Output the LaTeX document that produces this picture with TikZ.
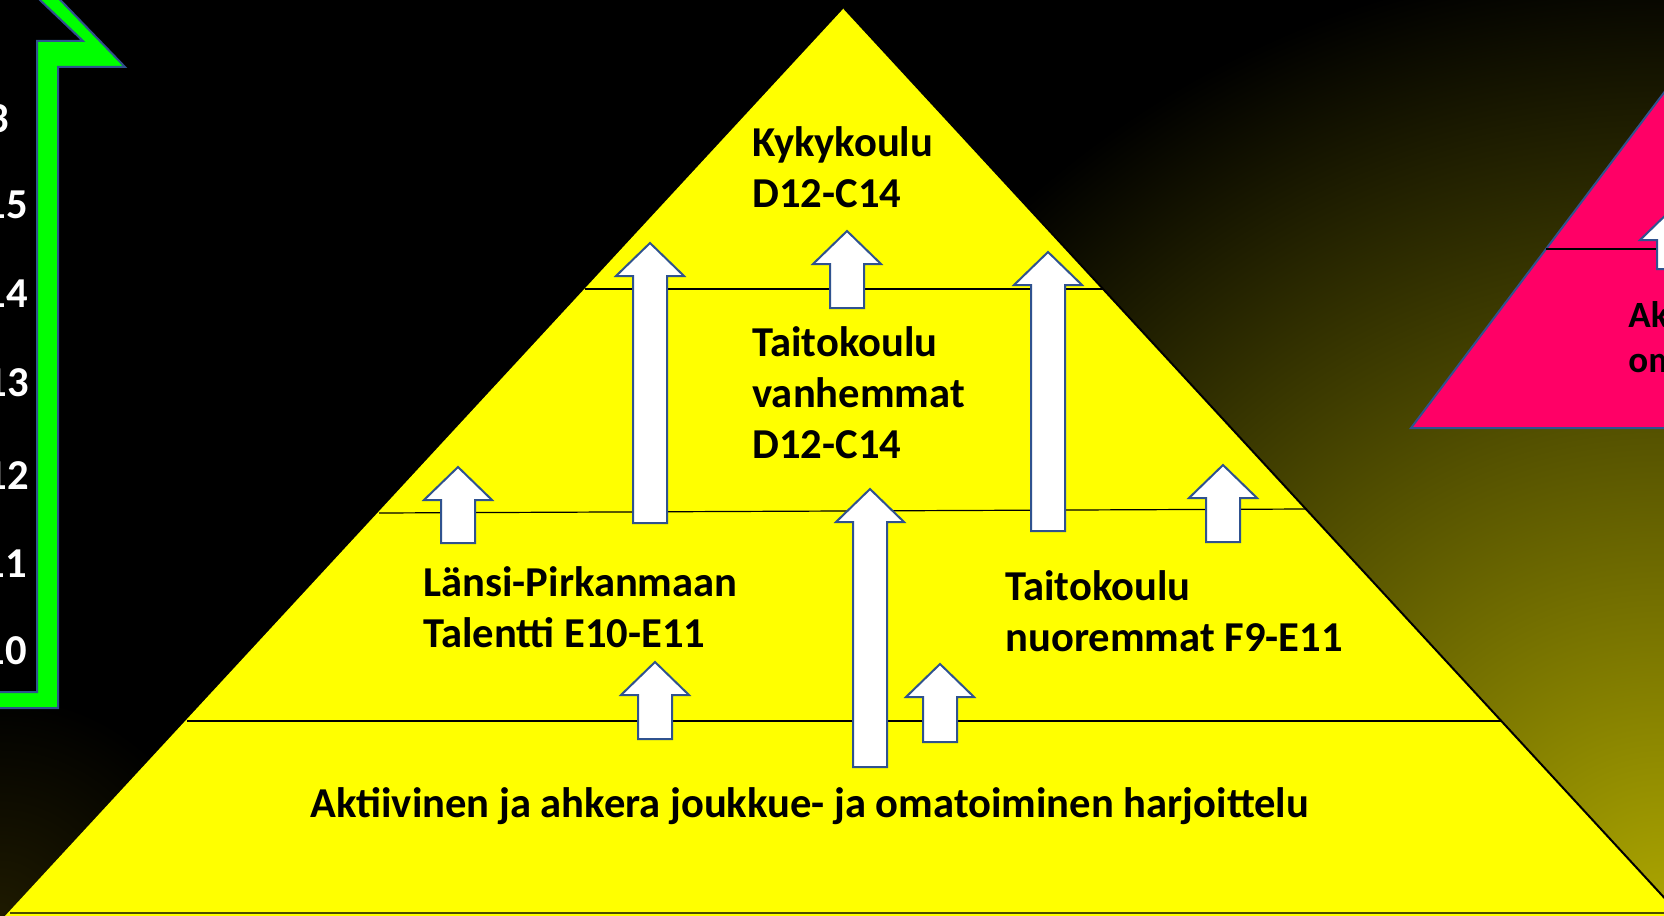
\documentclass[tikz,border=0pt]{standalone}
\usepackage{fontspec}
\setmainfont{Carlito}
\definecolor{pyel}{RGB}{255,255,0}
\definecolor{pgreen}{RGB}{0,255,0}
\definecolor{ppink}{RGB}{255,0,102}
\definecolor{pblue}{RGB}{47,82,143}
\definecolor{glowc}{RGB}{172,166,0}
\definecolor{glowd}{RGB}{30,26,0}
\pgfdeclareradialshading{glow}{\pgfpoint{0bp}{0bp}}{color(0bp)=(glowc); color(25bp)=(black); color(50bp)=(black)}
\pgfdeclareradialshading{glowtwo}{\pgfpoint{0bp}{0bp}}{color(0bp)=(glowd); color(25bp)=(black); color(50bp)=(black)}
\tikzset{
  lbl/.style={anchor=base west, inner sep=0pt, font=\fontsize{21.3}{25.5}\selectfont\bfseries, text=black},
  pinklbl/.style={anchor=base west, inner sep=0pt, font=\fontsize{18.5}{22.5}\selectfont\bfseries, text=black},
  numlbl/.style={anchor=base east, inner sep=0pt, font=\fontsize{21.3}{25.5}\selectfont\bfseries, text=white},
  blockarrow/.style={draw=pblue, fill=white, line width=1pt, line join=miter},
  layerline/.style={draw=black, line width=0.6pt}
}
\newcommand{\blkuparrow}[3]{% cx, tip, bottom
  \draw[blockarrow] ({#1-17},#3) -- ({#1-17},{#2+33}) -- ({#1-34},{#2+33}) -- (#1,#2)
    -- ({#1+34},{#2+33}) -- ({#1+17},{#2+33}) -- ({#1+17},#3) -- cycle;}
\begin{document}
\begin{tikzpicture}[x=0.5pt,y=-0.5pt]
\useasboundingbox (0,0) rectangle (1664,915);
\clip (0,0) rectangle (1664,915);
% background
\fill[black] (-10,-10) rectangle (1680,930);
\shade[shading=glowtwo] (0,915) circle (110pt);
\shade[shading=glow] (1664,915) circle (480pt);
% green bent arrow
\draw[fill=pgreen, draw=pblue, line width=1pt] (19,-20) -- (83,41) -- (37,41) -- (37,692) -- (-10,692)
  -- (-10,708) -- (58,708) -- (58,67) -- (125,67) -- (41,-20) -- cycle;
% numbers
\node[numlbl] (n8) at (9,133) {3};
\node[numlbl] (n15) at (28,218) {15};
\node[numlbl] (n14) at (28,307) {14};
\node[numlbl] (n13) at (29,396) {13};
\node[numlbl] (n12) at (29,489) {12};
\node[numlbl] (n11) at (27,577) {11};
\node[numlbl] (n10) at (27,664) {10};
% pink triangle
\draw[fill=ppink, draw=pblue, line width=1pt] (1411,428) -- (1764,-40) -- (1764,428) -- cycle;
\draw[layerline] (1546,249) -- (1700,249);
\blkuparrow{1674}{207}{269}
\node[pinklbl] (pk1) at (1628,327) {Aktiivinen ja};
\node[pinklbl] (pk2) at (1628,372) {omatoiminen};
% yellow pyramid
\fill[pyel] (844,8) -- (-8,930) -- (1694,930) -- cycle;
\draw[black, line width=1pt] (844,8) -- (1694,930);
\draw[black!70!pyel, line width=0.8pt] (10,913) -- (1678,913);
% layer lines
\draw[layerline] (585,289) -- (1103,289);
\draw[layerline] (379,513) -- (1306,509);
\draw[layerline] (187,721) -- (1501,721);
% block arrows
\blkuparrow{650}{243}{523}
\blkuparrow{847}{231}{308}
\blkuparrow{458}{467}{543}
\blkuparrow{870}{489}{767}
\blkuparrow{1048}{252}{531}
\blkuparrow{655}{662}{739}
\blkuparrow{940}{664}{742}
\blkuparrow{1223}{465}{542}
% labels
\node[lbl] (k1) at (752,156) {Kykykoulu};
\node[lbl] (k2) at (752,207) {D12-C14};
\node[lbl] (t1) at (752,356) {Taitokoulu};
\node[lbl] (t2) at (752,407) {vanhemmat};
\node[lbl] (t3) at (752,458) {D12-C14};
\node[lbl] (l1) at (423,596) {Länsi-Pirkanmaan};
\node[lbl] (l2) at (423,647) {Talentti E10-E11};
\node[lbl] (r1) at (1005,600) {Taitokoulu};
\node[lbl] (r2) at (1005,651) {nuoremmat F9-E11};
\node[lbl] (b1) at (310,817) {Aktiivinen ja ahkera joukkue- ja omatoiminen harjoittelu};
\end{tikzpicture}
\end{document}
